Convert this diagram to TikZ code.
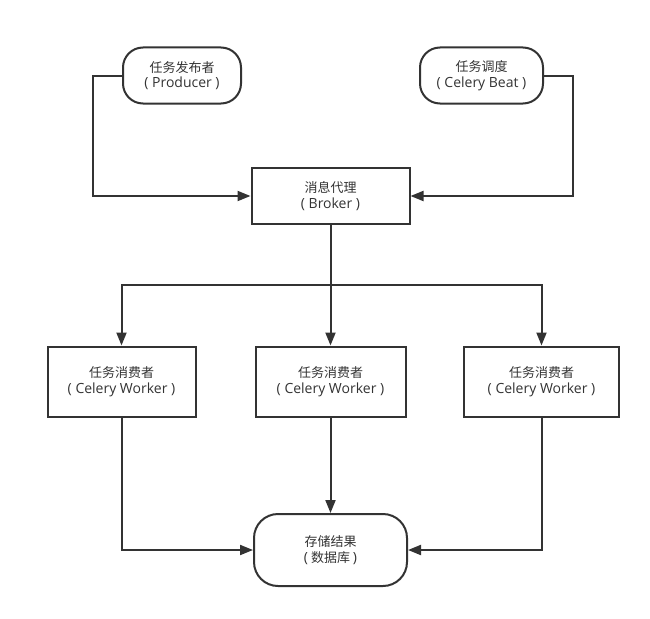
\documentclass[tikz,border=0pt]{standalone}
\usepackage{fontspec}
\setmainfont{Noto Sans CJK SC}
\newfontfamily\latf{Open Sans}
\newcommand\lat{\latf\fontsize{14}{15.5}\selectfont}
\usetikzlibrary{arrows.meta}
\definecolor{ink}{HTML}{333333}
\tikzset{
  box/.style={draw=ink, line width=2pt, rectangle, align=center, text=ink,
    font=\fontsize{13}{15.5}\selectfont, inner sep=0pt},
  pill/.style={box, rounded corners=20pt},
  conn/.style={draw=ink, line width=2pt},
  arr/.style={conn, -{Triangle[length=13pt,width=10pt]}}
}
\begin{document}
\begin{tikzpicture}[x=1pt,y=-1pt]
\useasboundingbox (0,0) rectangle (650,618);
\node[pill, minimum width=118pt, minimum height=56pt] (prod) at (182,75.5) {任务发布者\\{\lat ( Producer )}};
\node[pill, minimum width=123pt, minimum height=56pt] (beat) at (481.5,75.5) {任务调度\\{\lat ( Celery Beat )}};
\node[box, minimum width=158pt, minimum height=56pt] (broker) at (330.5,196) {消息代理\\{\lat ( Broker )}};
\node[box, minimum width=148pt, minimum height=70pt] (w1) at (121.5,381.5) {任务消费者\\{\lat ( Celery Worker )}};
\node[box, minimum width=150pt, minimum height=70pt] (w2) at (330.5,381.5) {任务消费者\\{\lat ( Celery Worker )}};
\node[box, minimum width=155pt, minimum height=70pt] (w3) at (541.5,381.5) {任务消费者\\{\lat ( Celery Worker )}};
\node[pill, rounded corners=24pt, minimum width=153pt, minimum height=72pt] (db) at (330.5,550) {存储结果\\{\lat (} 数据库 {\lat )}};
\coordinate (pl) at (93,75.5);
\coordinate (br) at (573,75.5);
\coordinate (j) at (330.5,285);
\draw[arr] (prod.west) -- (pl) |- (broker.west);
\draw[arr] (beat.east) -- (br) |- (broker.east);
\draw[conn] (broker.south) -- (j);
\draw[arr] (j) -| (w1.north);
\draw[arr] (j) -- (w2.north);
\draw[arr] (j) -| (w3.north);
\draw[arr] (w1.south) |- (db.west);
\draw[arr] (w2.south) -- (db.north);
\draw[arr] (w3.south) |- (db.east);
\end{tikzpicture}
\end{document}
